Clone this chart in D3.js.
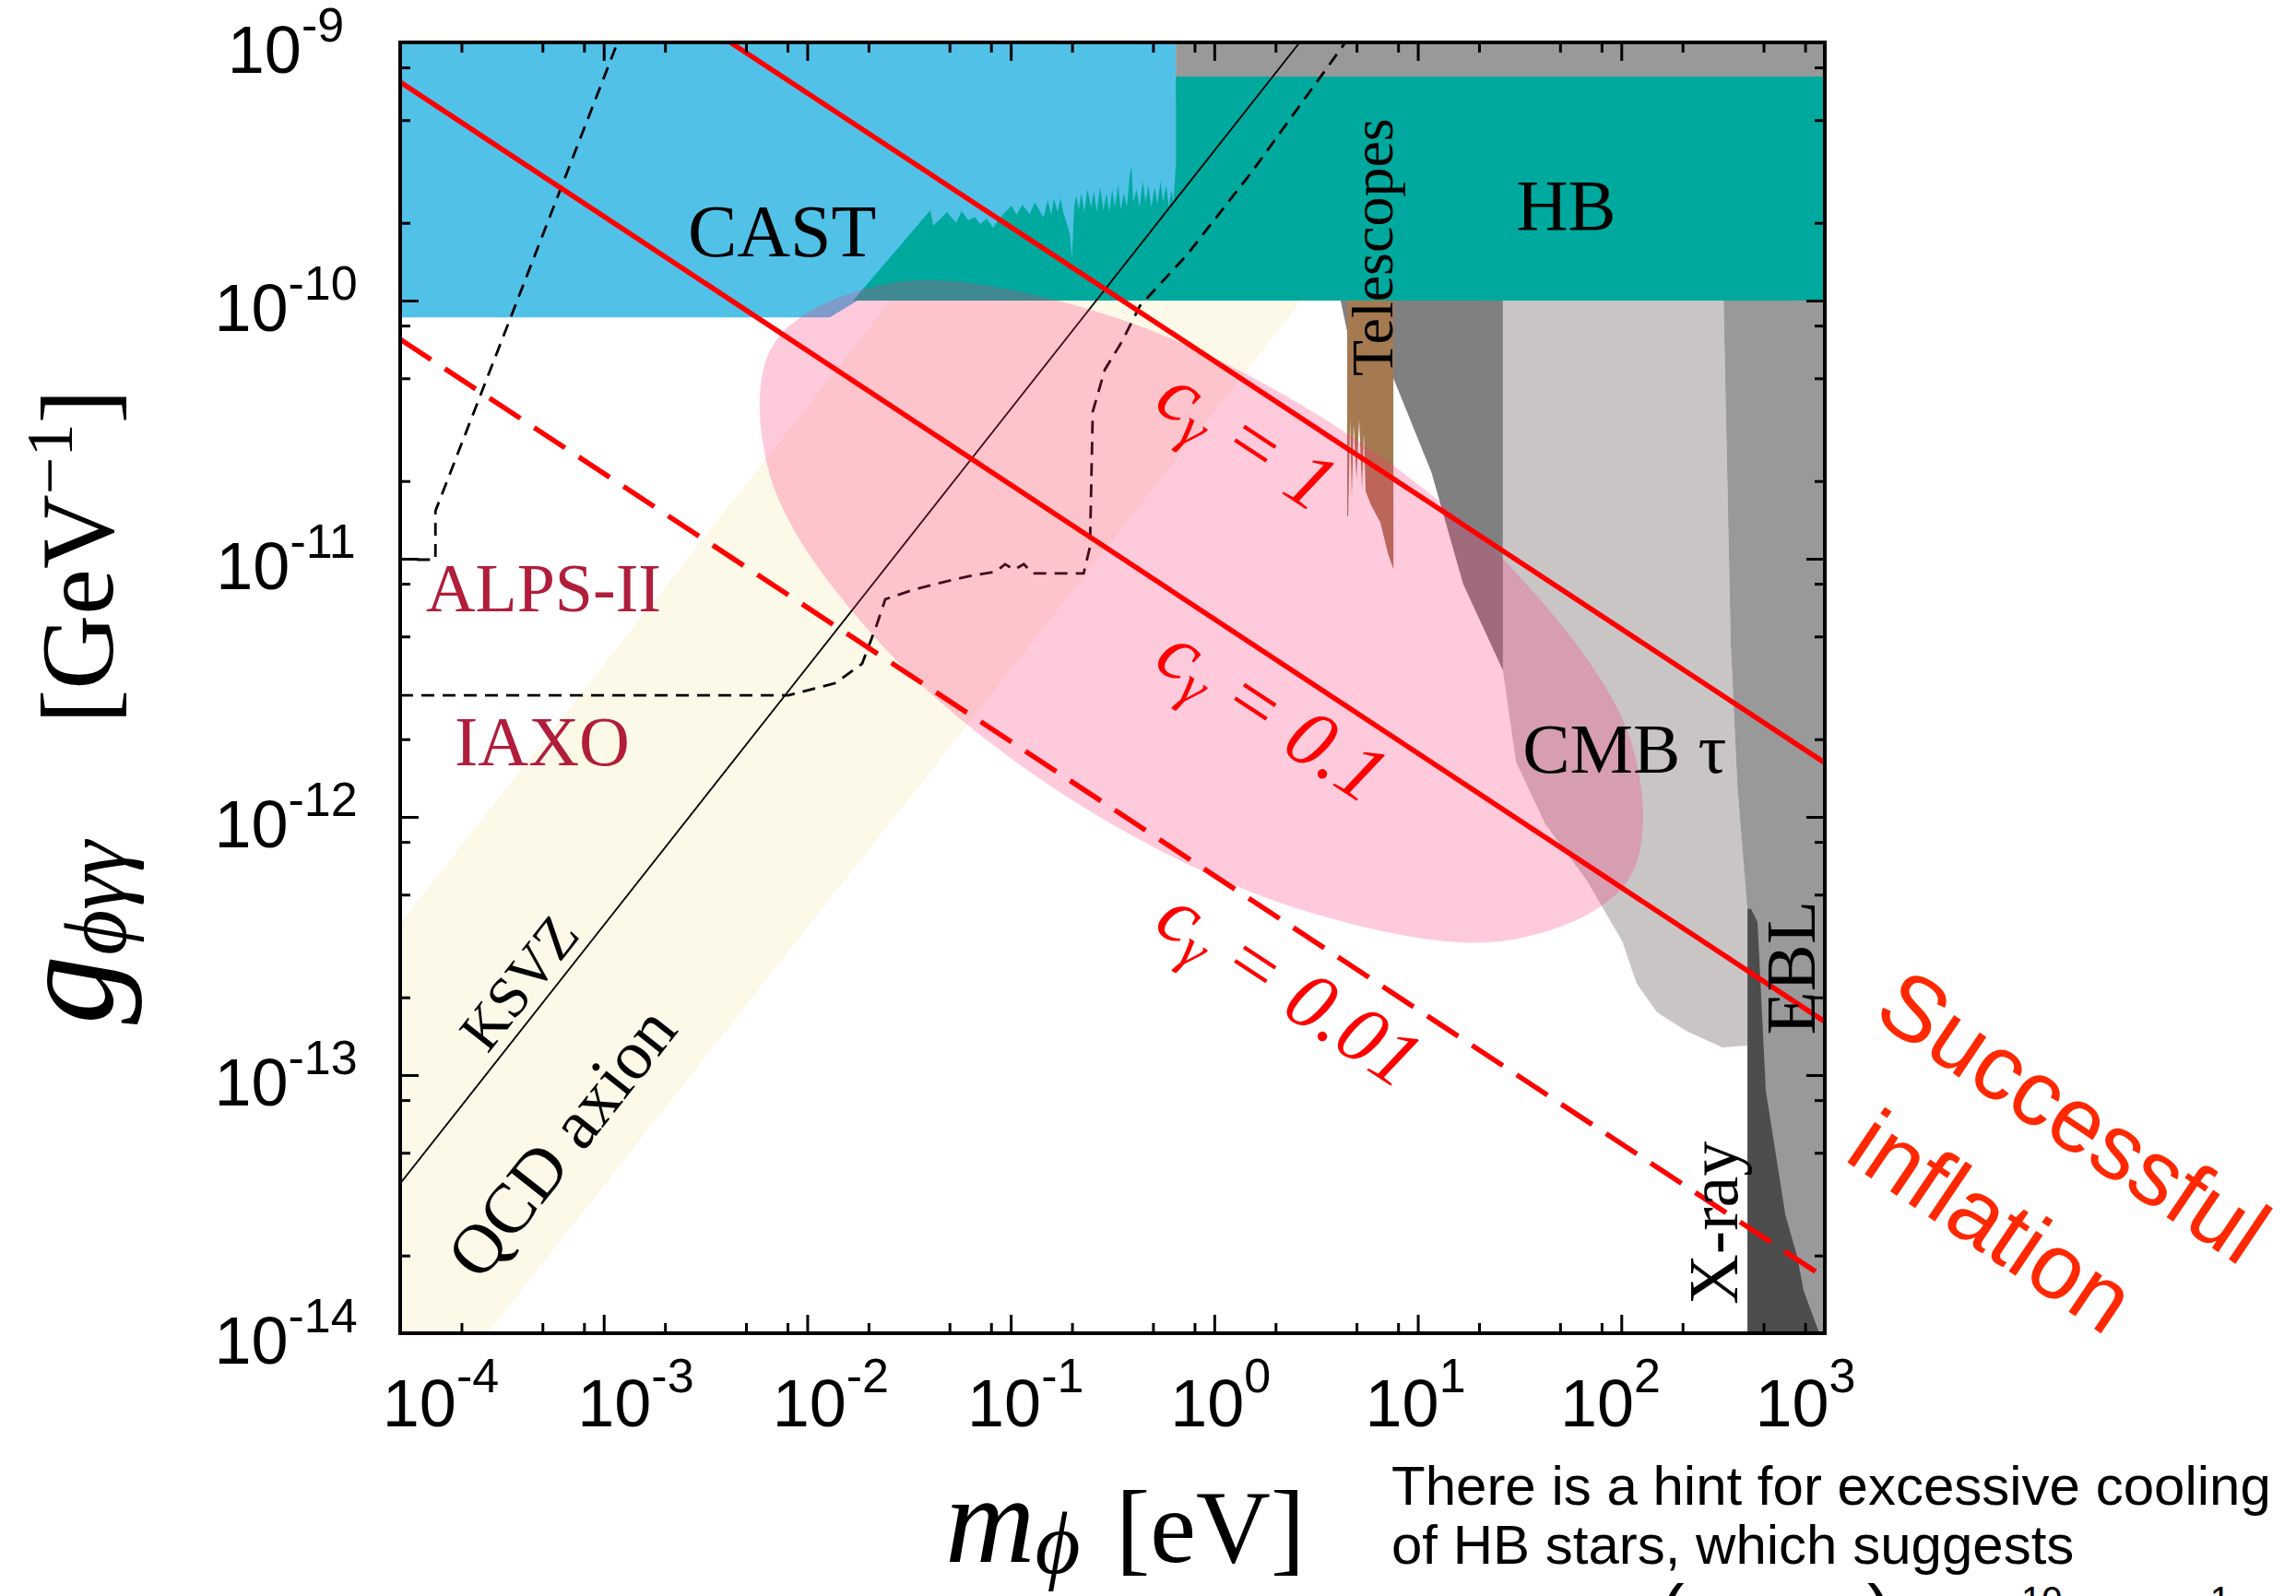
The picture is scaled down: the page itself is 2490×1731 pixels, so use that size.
<!DOCTYPE html>
<html>
<head>
<meta charset="utf-8">
<title>ALP coupling vs mass</title>
<script src="https://cdn.jsdelivr.net/npm/d3@7"></script>
<style>
    body { margin: 0; background: #fff; }
    .serif { font-family: "Liberation Serif", "Times New Roman", "DejaVu Serif", serif; }
    .sans { font-family: "Liberation Sans", Arial, Helvetica, sans-serif; }
</style>
</head>
<body>
<svg id="chart"></svg>
<script>
// axis ranges and ticks
var mRange = [1e-4, 1e3],          // m_phi [eV]
    gRange = [1e-14, 1e-9];        // g [GeV^-1]
var xDecades = [-4, -3, -2, -1, 0, 1, 2, 3],
    yDecades = [-9, -10, -11, -12, -13, -14],
    minorMult = [2, 5, 8];

// regions, [m (eV), g (GeV^-1)]
var qcdBand = [[1e-4,3.89e-13],[1e-4,1e-14],[2.69e-4,1e-14],[2.69,1e-10],[2.57e-2,1e-10]];
var castRegion = [[1e-4,1e-9],[0.647,1e-9],[0.647,1e-10],[1.77e-2,1e-10],[1.29e-2,8.6e-11],[1e-4,8.6e-11]];
var topStrip = [[0.647,1e-9],[1e3,1e-9],[1e3,6e-10],[0.647,6e-10]];
var hbRegion = [[1.68e-2,1e-10],[4.03e-2,2.24e-10],[4.16e-2,1.95e-10],[4.86e-2,2.20e-10],[5.39e-2,2.00e-10],
    [5.74e-2,2.22e-10],[6.18e-2,2.05e-10],[6.65e-2,2.11e-10],[7.08e-2,1.98e-10],[7.62e-2,2.08e-10],
    [8.19e-2,1.91e-10],[8.73e-2,2.06e-10],[9.38e-2,2.20e-10],[0.101,2.33e-10],[0.107,2.15e-10],
    [0.114,2.35e-10],[0.124,2.16e-10],[0.131,2.4e-10],[0.138,2.25e-10],[0.145,2.1e-10],[0.152,2.45e-10],
    [0.158,2.15e-10],[0.163,2.49e-10],[0.170,2.2e-10],[0.176,2.5e-10],[0.181,2.20e-10],[0.188,2.0e-10],
    [0.195,1.82e-10],[0.200,1.46e-10],[0.205,2.3e-10],[0.210,2.55e-10],[0.216,2.25e-10],[0.222,2.6e-10],
    [0.23,2.2e-10],[0.238,2.7e-10],[0.248,2.3e-10],[0.256,2.65e-10],[0.265,2.2e-10],[0.275,2.75e-10],
    [0.285,2.25e-10],[0.296,2.6e-10],[0.305,2.2e-10],[0.315,2.7e-10],[0.325,2.3e-10],[0.337,2.8e-10],
    [0.347,2.25e-10],[0.36,2.6e-10],[0.372,2.3e-10],[0.385,3.1e-10],[0.392,3.3e-10],[0.40,2.4e-10],
    [0.415,2.7e-10],[0.43,2.3e-10],[0.445,2.9e-10],[0.46,2.4e-10],[0.475,2.8e-10],[0.49,2.3e-10],
    [0.51,2.75e-10],[0.525,2.35e-10],[0.545,2.9e-10],[0.56,2.4e-10],[0.58,2.8e-10],[0.60,2.3e-10],
    [0.615,2.7e-10],[0.63,2.4e-10],[0.647,3.32e-10],[0.647,7.38e-10],[1e3,7.38e-10],[1e3,1e-10]];
var cmbTau = [[26.2,1e-10],[318,1e-10],[345,4.62e-12],[372,1.31e-12],[420,4.4e-13],[420,1.30e-13],
    [314,1.28e-13],[209,1.48e-13],[150,1.75e-13],[119,2.26e-13],[101,3.3e-13],[67.8,5.67e-13],
    [42.4,9.36e-13],[30.4,1.63e-12],[26.2,3.7e-12]];
var eblRegion = [[318,1e-10],[1e3,1e-10],[1e3,1e-14],[417,1e-14],[417,4.4e-13],[372,1.31e-12],[345,4.62e-12]];
var xrayRegion = [[417,4.4e-13],[434,4.4e-13],[467,3.92e-13],[513,8.7e-14],[639,2.89e-14],[732,1.98e-14],
    [787,1.46e-14],[940,1e-14],[417,1e-14]];
var wedge = [[4.18,1e-10],[26.2,1e-10],[26.2,3.7e-12],[16.7,8.0e-12],[11.7,2.15e-11],[7.59,5.0e-11],[4.50,7.56e-11]];
var telescopes = [[4.50,1e-10],[7.59,1e-10],[7.59,9.1e-12],[7.13,1.05e-11],[6.55,1.38e-11],[5.90,1.61e-11],
    [5.55,1.82e-11],[5.43,3.06e-11],[5.32,1.87e-11],[5.15,3.46e-11],[5.00,2.03e-11],[4.84,3.32e-11],
    [4.74,1.72e-11],[4.65,3.46e-11],[4.55,1.46e-11],[4.50,1.46e-11]];
// HB-hint ellipse outline
var hintEllipse = [[109,5.75e-13],[28.8,3.34e-13],[2.97,4.26e-13],[0.220,1.11e-12],[0.0234,4.61e-12],
    [6.59e-3,2.08e-11],[6.84e-3,6.79e-11],[0.0259,1.17e-10],[0.252,9.18e-11],[3.40,3.52e-11],
    [31.9,8.47e-12],[113.5,1.88e-12]];

// lines
var ksvz = [[1e-4,3.8e-14],[2.63,1e-9]];
var alps = [[1.21e-4,9.92e-12],[1.49e-4,9.92e-12],[1.49e-4,1.53e-11],[1.70e-4,2.0e-11],[1.17e-3,1e-9]];
var iaxo = [[1e-4,2.96e-12],[8.09e-3,2.96e-12],[1.38e-2,3.30e-12],[1.86e-2,3.92e-12],[2.18e-2,5.45e-12],
    [2.42e-2,6.97e-12],[3.30e-2,7.57e-12],[4.52e-2,8.07e-12],[6.18e-2,8.55e-12],[8.45e-2,8.91e-12],
    [9.38e-2,9.53e-12],[0.104,9.06e-12],[0.116,9.53e-12],[0.128,8.77e-12],[0.228,8.77e-12],[0.245,1.11e-11],
    [0.253,3.72e-11],[0.290,5.40e-11],[0.353,6.97e-11],[0.431,9.53e-11],[0.733,1.50e-10],[1.52,3.13e-10],[4.41,1e-9]];
var cGamma = ["1", "0.1", "0.01"];
var cLines = [[[4.19e-3,1e-9],[1e3,1.62e-12]],
              [[1e-4,7.02e-10],[1e3,1.61e-13]],
              [[1e-4,7.08e-11],[1e3,1.64e-14]]];
var cLabelAt = [[0.493,3.85e-11],[0.493,3.85e-12],[0.493,3.7e-13]];

var noteLines = ["There is a hint for excessive cooling", "of HB stars, which suggests"];

var W = 2490, H = 1731;
var svg = d3.select("#chart").attr("width", W).attr("height", H);

var x = d3.scaleLog().domain(mRange).range([434, 1979]),
    y = d3.scaleLog().domain(gRange).range([1446, 46]);
var line = d3.line().x(function(d){ return x(d[0]); }).y(function(d){ return y(d[1]); });

svg.append("defs").append("clipPath").attr("id", "plotclip").append("rect")
    .attr("x", 434).attr("y", 46).attr("width", 1545).attr("height", 1400);
var plot = svg.append("g").attr("clip-path", "url(#plotclip)");

function region(data, fill) {
    plot.append("path").attr("d", line(data) + "Z").attr("fill", fill);
}
function angleOf(seg) {
    return Math.atan2(y(seg[1][1]) - y(seg[0][1]), x(seg[1][0]) - x(seg[0][0])) * 180 / Math.PI;
}
function at(m, gv, rot) {
    return "translate(" + x(m) + "," + y(gv) + ")" + (rot ? " rotate(" + rot + ")" : "");
}

//regions
region(qcdBand, "#fdf9e8");
region(castRegion, "#52c1e8");
region(topStrip, "#999999");
region(hbRegion, "#00a99d");
region(cmbTau, "#c9c5c5");
region(eblRegion, "#999999");
region(xrayRegion, "#4d4d4d");
region(wedge, "#808080");
region(telescopes, "#a57a50");

// black reference lines
plot.append("path").attr("d", line(ksvz)).attr("fill", "none").attr("stroke", "#000").attr("stroke-width", 1.8);
[alps, iaxo].forEach(function(d){
    plot.append("path").attr("d", line(d)).attr("fill", "none").attr("stroke", "#000")
        .attr("stroke-width", 2.8).attr("stroke-dasharray", "14,9");
});

var lbl = svg.append("g").attr("class", "serif");
lbl.append("text").attr("transform", at(32.7, 1.48e-12)).attr("font-size", 77).text("CMB τ");

// HB hint ellipse
var ell = d3.line().x(function(d){ return x(d[0]); }).y(function(d){ return y(d[1]); })
    .curve(d3.curveCatmullRomClosed.alpha(0.5));
plot.append("path").attr("d", ell(hintEllipse)).attr("fill", "rgb(255,44,117)").attr("fill-opacity", 0.25);

// c_gamma lines
cLines.forEach(function(seg, i){
    plot.append("path").attr("d", line(seg)).attr("fill", "none").attr("stroke", "#ff0000")
        .attr("stroke-width", 5.5).attr("stroke-dasharray", i === 2 ? "40,18" : null);
});

//labels
lbl.append("text").attr("transform", at(2.59e-3, 1.48e-10)).attr("font-size", 80).text("CAST");
lbl.append("text").attr("transform", at(30.4, 1.88e-10)).attr("font-size", 78).text("HB");
lbl.append("text").attr("transform", at(7.51, 5.09e-11, -90)).attr("font-size", 64).text("Telescopes");
lbl.append("text").attr("transform", at(893, 1.43e-13, -90)).attr("font-size", 77).text("EBL");
lbl.append("text").attr("transform", at(372, 1.29e-14, -90)).attr("font-size", 76).text("X-ray");
lbl.append("text").attr("transform", at(2.69e-4, 1.20e-13, angleOf(ksvz))).attr("font-size", 63).text("KSVZ");
lbl.append("text").attr("transform", at(2.48e-4, 1.57e-14, angleOf(ksvz))).attr("font-size", 76).text("QCD axion");
lbl.append("text").attr("transform", at(1.34e-4, 6.25e-12)).attr("font-size", 74).attr("fill", "#b01e3c").text("ALPS-II");
lbl.append("text").attr("transform", at(1.85e-4, 1.58e-12)).attr("font-size", 76).attr("fill", "#b01e3c").text("IAXO");

cGamma.forEach(function(c, i){
    var t = lbl.append("text").attr("transform", at(cLabelAt[i][0], cLabelAt[i][1], angleOf(cLines[i])))
        .attr("fill", "#ff0000").attr("font-size", 88).attr("font-style", "italic");
    t.append("tspan").text("c");
    t.append("tspan").attr("font-size", 60).attr("dy", 14).text("γ");
    t.append("tspan").attr("dy", -14).text(" = " + c);
});

// ticks
var majorX = xDecades.map(function(n){ return Math.pow(10, n); }),
    minorX = [], majorY = yDecades.map(function(n){ return Math.pow(10, n); }), minorY = [];
xDecades.slice(0, -1).forEach(function(n){ minorMult.forEach(function(k){ minorX.push(k * Math.pow(10, n)); }); });
yDecades.slice(1).forEach(function(n){ minorMult.forEach(function(k){ minorY.push(k * Math.pow(10, n)); }); });

function tickSet(axis, tr, vals, len) {
    var a = svg.append("g").attr("transform", tr).call(axis.tickValues(vals).tickSize(-len).tickFormat(""));
    a.select(".domain").remove();
    a.selectAll("line").attr("stroke", "#000").attr("stroke-width", 3);
}
tickSet(d3.axisBottom(x), "translate(0,1446)", majorX, 20);
tickSet(d3.axisBottom(x), "translate(0,1446)", minorX, 11);
tickSet(d3.axisTop(x), "translate(0,46)", majorX, 20);
tickSet(d3.axisTop(x), "translate(0,46)", minorX, 11);
tickSet(d3.axisLeft(y), "translate(434,0)", majorY, 20);
tickSet(d3.axisLeft(y), "translate(434,0)", minorY, 11);
tickSet(d3.axisRight(y), "translate(1979,0)", majorY, 20);
tickSet(d3.axisRight(y), "translate(1979,0)", minorY, 11);

svg.append("rect").attr("x", 434).attr("y", 46).attr("width", 1545).attr("height", 1400)
    .attr("fill", "none").attr("stroke", "#000").attr("stroke-width", 4);

// tick labels
var tl = svg.append("g").attr("class", "sans");
function expLabel(n) { return n < 0 ? "-" + (-n) : String(n); }
xDecades.forEach(function(n){
    var t = tl.append("text").attr("x", x(Math.pow(10, n)) + 44 - (n + 4) * 9.3).attr("y", 1547)
        .attr("text-anchor", "middle").attr("font-size", 72);
    t.append("tspan").text("10");
    t.append("tspan").attr("font-size", 52).attr("dy", -37).text(expLabel(n));
});
yDecades.forEach(function(n){
    var t = tl.append("text").attr("x", 310).attr("y", y(Math.pow(10, n)) + 33)
        .attr("text-anchor", "middle").attr("font-size", 72);
    t.append("tspan").text("10");
    t.append("tspan").attr("font-size", 52).attr("dy", -34).text(expLabel(n));
});

// axis titles
var xt = svg.append("text").attr("class", "serif").attr("y", 1694);
xt.append("tspan").attr("x", 1025).attr("font-size", 135).attr("font-style", "italic").text("m");
xt.append("tspan").attr("font-size", 95).attr("font-style", "italic").attr("dy", 12).text("ϕ");
xt.append("tspan").attr("x", 1210).attr("dy", -12).attr("font-size", 112).text("[eV]");

var yt = svg.append("text").attr("class", "serif").attr("transform", "translate(122,1111) rotate(-90)");
yt.append("tspan").attr("font-size", 150).attr("font-style", "italic").text("g");
yt.append("tspan").attr("font-size", 95).attr("font-style", "italic").attr("dy", 14).text("ϕγγ");
yt.append("tspan").attr("x", 326).attr("dy", -14).attr("font-size", 112).text("[GeV");
yt.append("tspan").attr("font-size", 72).attr("dy", -44).text("−1");
yt.append("tspan").attr("font-size", 112).attr("dy", 44).text("]");

// annotation
var ann = svg.append("g").attr("class", "sans").attr("fill", "#ff2800").attr("font-size", 100);
ann.append("text").attr("transform", "translate(2029,1104) rotate(34)").text("Successful");
ann.append("text").attr("transform", "translate(1998,1257) rotate(34)").text("inflation");

var note = svg.append("g").attr("class", "sans").attr("font-size", 60);
noteLines.forEach(function(s, i){
    note.append("text").attr("x", 1509).attr("y", 1632 + i * 64).text(s);
});
// third line, only its top edge falls inside the page
var n3 = note.append("text").attr("x", 1509).attr("y", 1775);
n3.append("tspan").attr("class", "serif").attr("font-style", "italic").attr("y", 1775).text("g");
n3.append("tspan").attr("font-size", 40).attr("y", 1787).text("aγγ");
n3.append("tspan").attr("y", 1775).text(" = ");
n3.append("tspan").attr("x", 1800).attr("y", 1775).attr("font-size", 80).text("(");
n3.append("tspan").attr("y", 1775).attr("font-size", 44).text("0.29 ± 0.18");
n3.append("tspan").attr("x", 2025).attr("y", 1775).attr("font-size", 80).text(")");
n3.append("tspan").attr("y", 1775).attr("font-size", 52).text(" × 10");
n3.append("tspan").attr("y", 1749).attr("font-size", 40).text("−10");
n3.append("tspan").attr("y", 1773).text(" GeV");
n3.append("tspan").attr("y", 1749).attr("font-size", 40).text("−1");
</script>
</body>
</html>
